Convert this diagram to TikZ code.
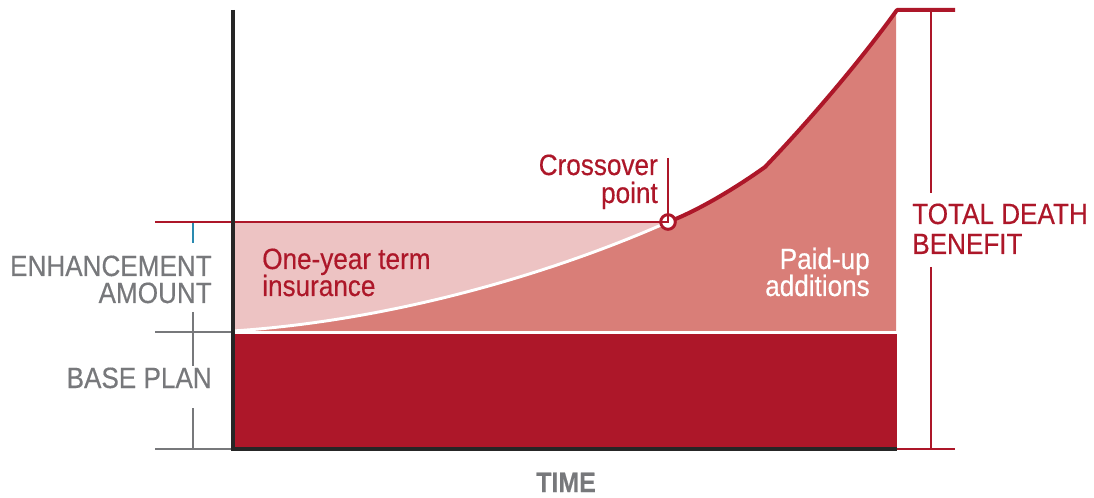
\documentclass[tikz,border=0pt]{standalone}
\usepackage{fontspec}
\setmainfont{Liberation Sans}[FakeStretch=0.89,FakeBold=0.4]
\definecolor{dred}{HTML}{AD1729}
\definecolor{lpink}{HTML}{EDC3C3}
\definecolor{salmon}{HTML}{D97E78}
\definecolor{lgray}{HTML}{77787B}
\definecolor{tickblue}{HTML}{2A8AB0}
\tikzset{
  lbl/.style={font=\fontsize{22}{26}\selectfont, inner sep=0pt},
  grayline/.style={draw=lgray, line width=2.2pt},
  graytick/.style={draw=lgray, line width=1.1pt},
  redline/.style={draw=dred, line width=2.2pt},
}
\begin{document}
\begin{tikzpicture}[x=0.75pt,y=-0.75pt]
\useasboundingbox (0,0) rectangle (1094,498);
% coordinates
\coordinate (o) at (233,331);
\coordinate (cp) at (668,222);
\coordinate (kink) at (765,167);
\coordinate (top) at (897,10);
% fills
\fill[lpink] (233,222) rectangle (668,331);
\fill[salmon] (o) .. controls (400,320) and (560,270) .. (cp)
  .. controls (700,210) and (740,185) .. (kink)
  .. controls (805,125) and (855,68) .. (top) -- (896,10) -- (896,331) -- cycle;
\draw[white, line width=2.2pt] (o) .. controls (400,320) and (560,270) .. (cp);
\draw[white, line width=2.2pt] (233,332) -- (897,332);
\fill[dred] (233,334) rectangle (897,449);
% top curve
\draw[dred, line width=3pt, line join=round] (cp) .. controls (700,210) and (740,185) .. (kink)
  .. controls (805,125) and (855,68) .. (top) -- (955,10);
% horizontal lines
\coordinate (l222) at (155,222);
\draw[redline] (l222) -- (cp);
\coordinate (l332) at (155,332);
\coordinate (a332) at (233,332);
\draw[grayline] (l332) -- (a332);
\coordinate (l449) at (155,449);
\coordinate (a449) at (233,449);
\coordinate (r449) at (897,449);
\coordinate (e449) at (955,449);
\draw[grayline] (l449) -- (a449);
\draw[black!85, line width=2.4pt] (a449) -- (r449);
\draw[redline] (r449) -- (e449);
% axis
\coordinate (axtop) at (233,10);
\draw[black!85, line width=2.4pt] (axtop) -- (233,450.5);
% right red line (interrupted by the label)
\coordinate (rt) at (931,10);
\coordinate (rm1) at (931,193);
\coordinate (rm2) at (931,267);
\coordinate (rb) at (931,449);
\draw[dred, line width=1.6pt] (rt) -- (rm1);
\draw[dred, line width=1.6pt] (rm2) -- (rb);
% ticks
\coordinate (bt1) at (193,223);
\coordinate (bt2) at (193,243);
\draw[tickblue, line width=1.1pt] (bt1) -- (bt2);
\coordinate (gt1) at (193,312);
\coordinate (gt2) at (193,366);
\coordinate (gt3) at (193,408);
\coordinate (gt4) at (193,449);
\draw[graytick] (gt1) -- (gt2);
\draw[graytick] (gt3) -- (gt4);
% crossover marker
\coordinate (cvtop) at (668,158);
\draw[dred, line width=1.4pt] (cvtop) -- (cp);
\node[circle, draw=dred, fill=white, line width=2.2pt, minimum size=11pt, inner sep=0pt] (cpm) at (cp) {};
\draw[dred, line width=1.2pt] (cpm.north) -- (cp) -- (cpm.west);
% labels
\node[lbl, text=lgray, anchor=base east] (enh) at (212,276) {ENHANCEMENT};
\node[lbl, text=lgray, anchor=base east] (amt) at (212,303) {AMOUNT};
\node[lbl, text=lgray, anchor=base east] (bp) at (212,388) {BASE PLAN};
\node[lbl, text=lgray, anchor=base, font=\fontsize{21}{25}\selectfont\bfseries] (time) at (566,492) {TIME};
\node[lbl, text=dred, anchor=base west] (oyt) at (262,269) {One-year term};
\node[lbl, text=dred, anchor=base west] (ins) at (262,296) {insurance};
\node[lbl, text=white, anchor=base east] (pu) at (870,269) {Paid-up};
\node[lbl, text=white, anchor=base east] (add) at (870,296) {additions};
\node[lbl, text=dred, anchor=base east] (cr) at (658,175) {Crossover};
\node[lbl, text=dred, anchor=base east] (pt) at (658,203) {point};
\node[lbl, text=dred, anchor=base west] (tdb) at (912,224) {TOTAL DEATH};
\node[lbl, text=dred, anchor=base west] (ben) at (912,254) {BENEFIT};
\end{tikzpicture}
\end{document}
